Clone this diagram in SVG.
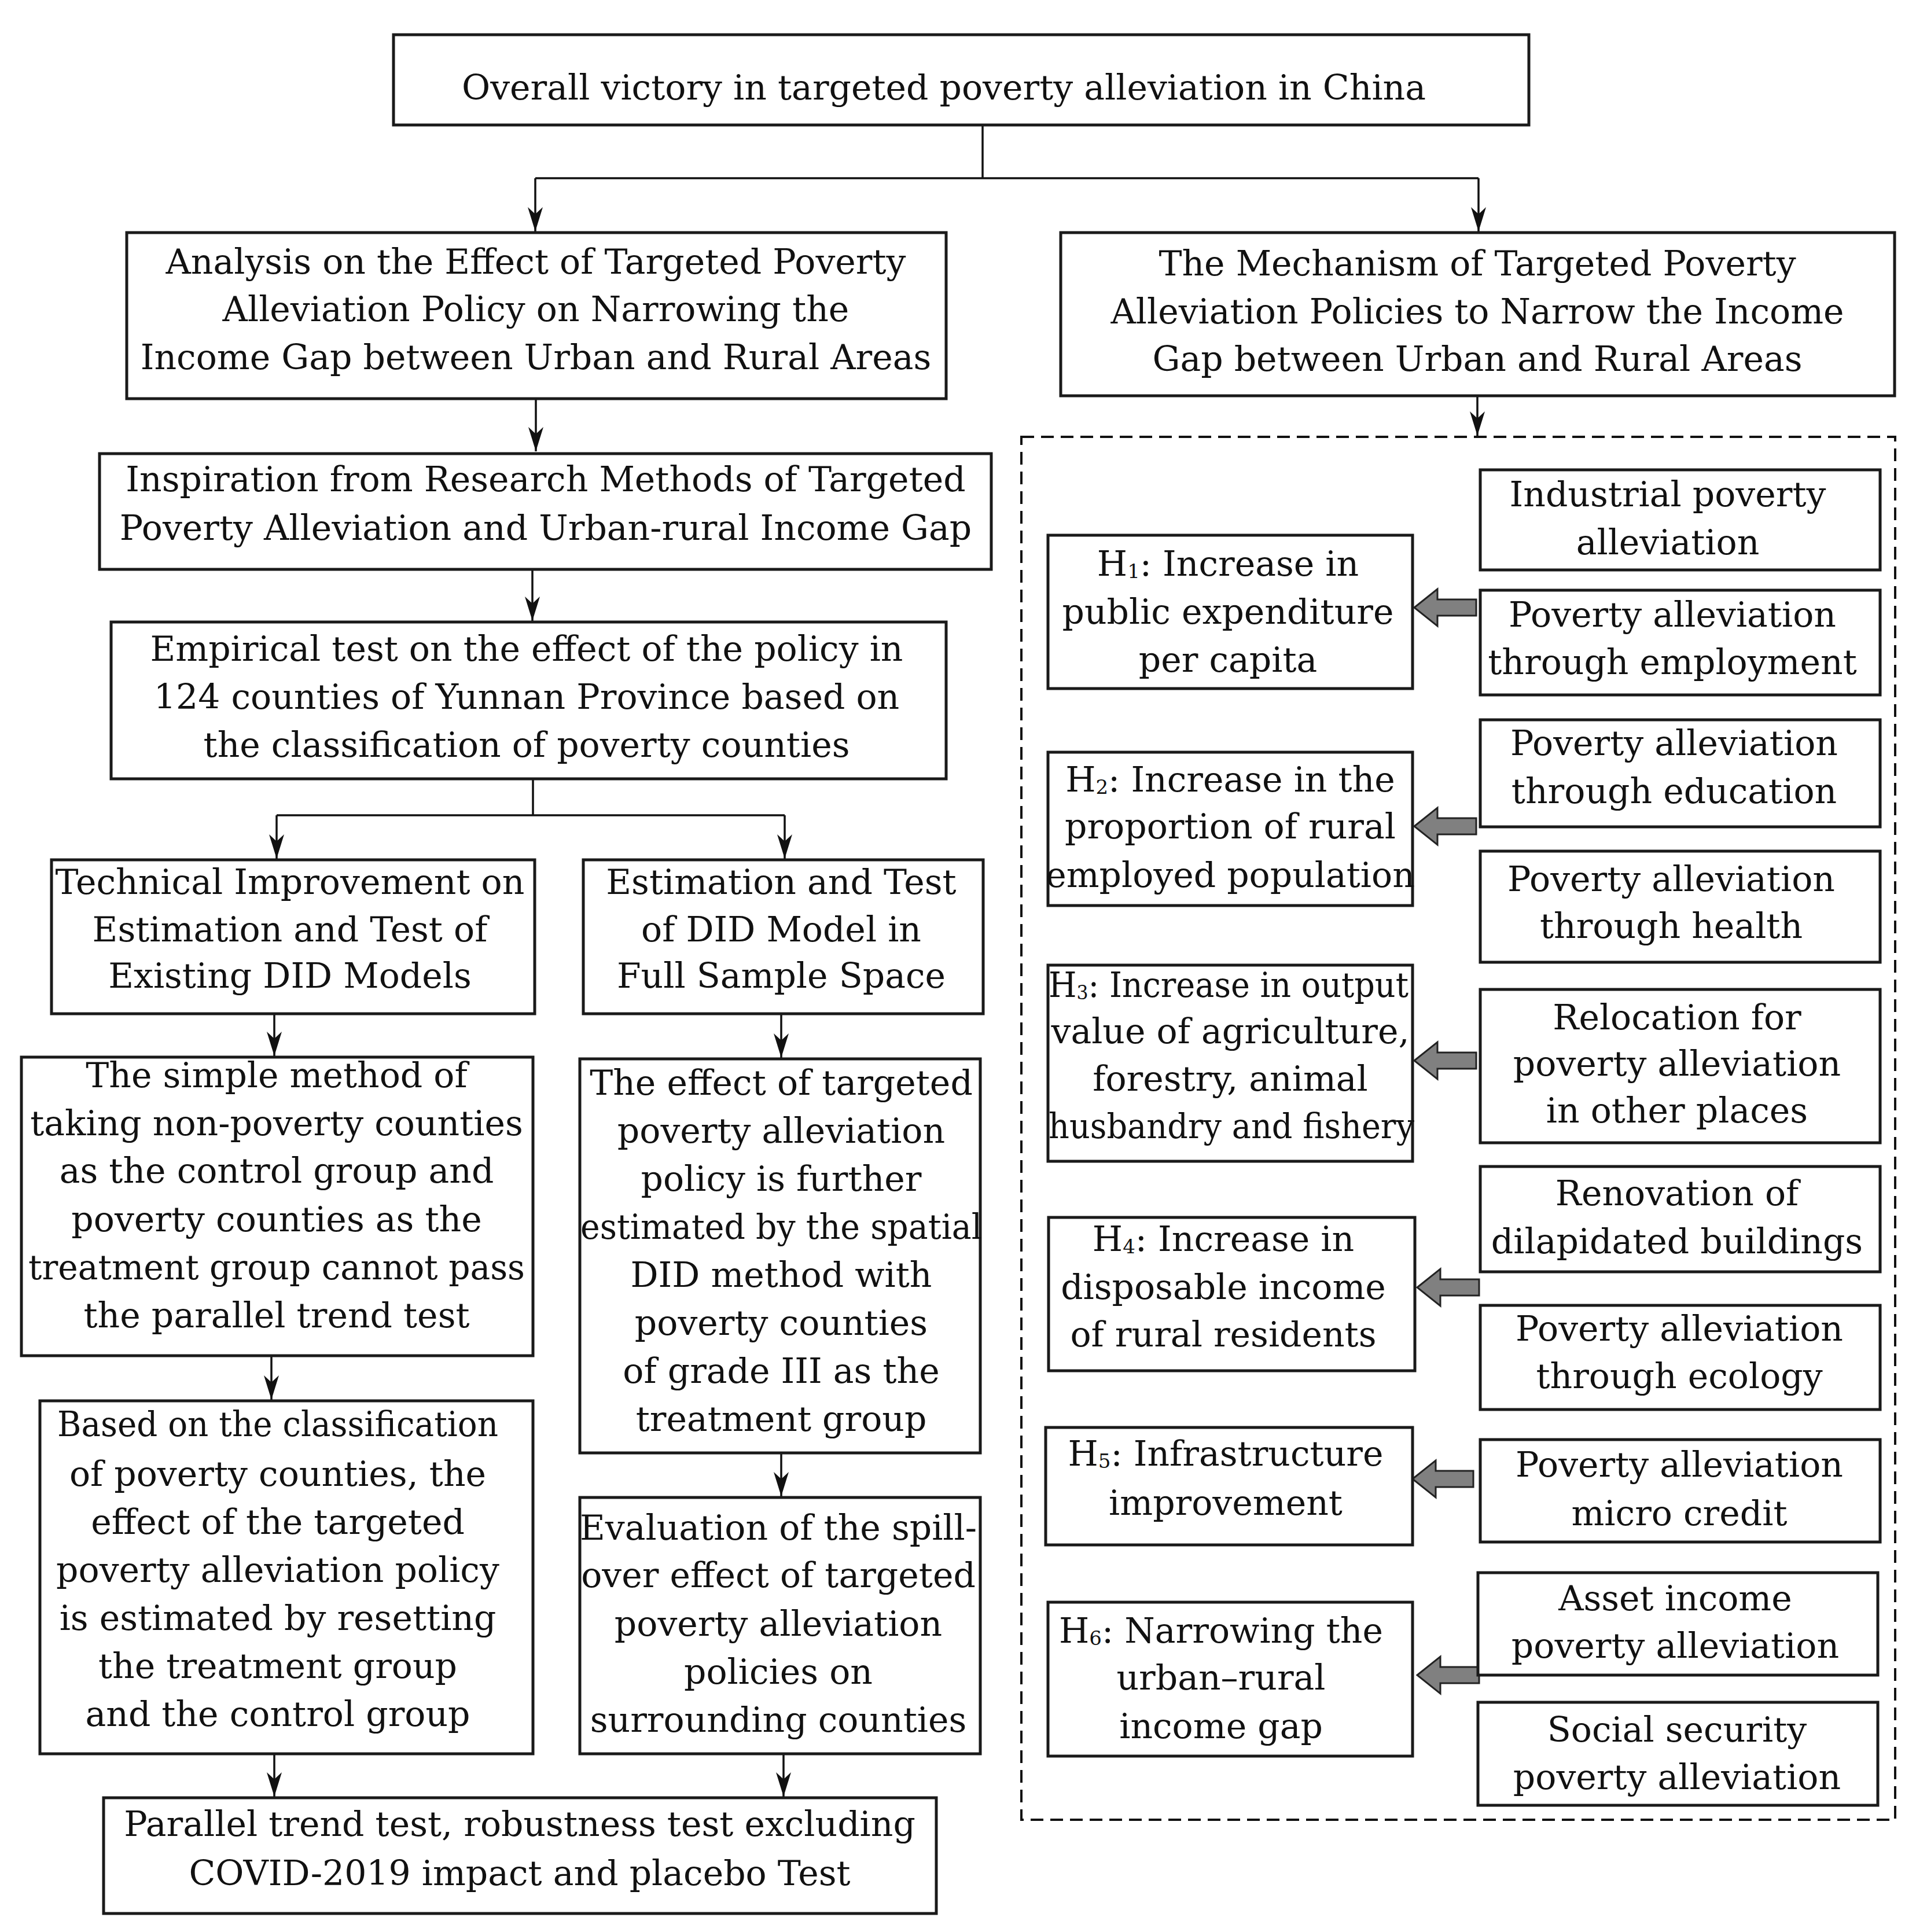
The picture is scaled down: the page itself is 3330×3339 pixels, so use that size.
<svg xmlns="http://www.w3.org/2000/svg" width="3330" height="3339" viewBox="0 0 3330 3339">
<style>
.box{fill:#fff;stroke:#1a1a1a;stroke-width:5}
.t{font-family:"DejaVu Serif","Liberation Serif",serif;font-size:60px;text-anchor:middle;fill:#111}
.ln{fill:none;stroke:#111;stroke-width:3.5}
.fat{fill:#808080;stroke:#222;stroke-width:3}
.sub{font-size:34px}
</style>
<defs>
<marker id="ah" viewBox="-42 -16 44 32" markerWidth="44" markerHeight="32" refX="0" refY="0" orient="auto" markerUnits="userSpaceOnUse">
<path d="M0,0 L-42,-13 L-30,0 L-42,13 Z" fill="#111"/>
</marker>
</defs>
<rect width="3330" height="3339" fill="#fff"/>

<g id="connectors">
<path class="ln" d="M1698,216 V308 M925,308 H2555"/>
<path class="ln" d="M925,308 V400" marker-end="url(#ah)"/>
<path class="ln" d="M2555,308 V400" marker-end="url(#ah)"/>
<path class="ln" d="M926,689 V780" marker-end="url(#ah)"/>
<path class="ln" d="M920,984 V1073" marker-end="url(#ah)"/>
<path class="ln" d="M921,1346 V1409 M478,1409 H1356"/>
<path class="ln" d="M478,1409 V1484" marker-end="url(#ah)"/>
<path class="ln" d="M1356,1409 V1484" marker-end="url(#ah)"/>
<path class="ln" d="M474,1752 V1825" marker-end="url(#ah)"/>
<path class="ln" d="M1350,1752 V1828" marker-end="url(#ah)"/>
<path class="ln" d="M469,2343 V2419" marker-end="url(#ah)"/>
<path class="ln" d="M1350,2511 V2586" marker-end="url(#ah)"/>
<path class="ln" d="M474,3031 V3105" marker-end="url(#ah)"/>
<path class="ln" d="M1354,3031 V3105" marker-end="url(#ah)"/>
<path class="ln" d="M2553,684 V753" marker-end="url(#ah)"/>
<rect x="1765" y="755" width="1510" height="2390" fill="none" stroke="#111" stroke-width="4" stroke-dasharray="22 12"/>
<polygon class="fat" points="2444,1050 2484,1018 2484,1036 2551,1036 2551,1064 2484,1064 2484,1082"/>
<polygon class="fat" points="2444,1428 2484,1396 2484,1414 2551,1414 2551,1442 2484,1442 2484,1460"/>
<polygon class="fat" points="2444,1833 2484,1801 2484,1819 2551,1819 2551,1847 2484,1847 2484,1865"/>
<polygon class="fat" points="2449,2225 2489,2193 2489,2211 2556,2211 2556,2239 2489,2239 2489,2257"/>
<polygon class="fat" points="2441,2556 2481,2524 2481,2542 2546,2542 2546,2570 2481,2570 2481,2588"/>
<polygon class="fat" points="2449,2895 2489,2863 2489,2881 2556,2881 2556,2909 2489,2909 2489,2927"/>
</g>

<g id="n_top"><rect class="box" x="680" y="60" width="1962" height="156"/>
<text class="t" x="1631" y="172">Overall victory in targeted poverty alleviation in China</text></g>

<g id="n_analysis"><rect class="box" x="219" y="402" width="1416" height="287"/>
<text class="t" x="926" y="473">Analysis on the Effect of Targeted Poverty</text>
<text class="t" x="926" y="555">Alleviation Policy on Narrowing the</text>
<text class="t" x="926" y="638">Income Gap between Urban and Rural Areas</text></g>

<g id="n_mechanism"><rect class="box" x="1833" y="402" width="1441" height="282"/>
<text class="t" x="2553" y="476">The Mechanism of Targeted Poverty</text>
<text class="t" x="2553" y="559">Alleviation Policies to Narrow the Income</text>
<text class="t" x="2553" y="641">Gap between Urban and Rural Areas</text></g>

<g id="n_inspiration"><rect class="box" x="172" y="784" width="1541" height="200"/>
<text class="t" x="943" y="849">Inspiration from Research Methods of Targeted</text>
<text class="t" x="943" y="933">Poverty Alleviation and Urban-rural Income Gap</text></g>

<g id="n_empirical"><rect class="box" x="192" y="1075" width="1443" height="271"/>
<text class="t" x="910" y="1142">Empirical test on the effect of the policy in</text>
<text class="t" x="910" y="1225">124 counties of Yunnan Province based on</text>
<text class="t" x="910" y="1308">the classification of poverty counties</text></g>

<g id="n_technical"><rect class="box" x="89" y="1486" width="835" height="266"/>
<text class="t" x="501" y="1545">Technical Improvement on</text>
<text class="t" x="501" y="1627">Estimation and Test of</text>
<text class="t" x="501" y="1707">Existing DID Models</text></g>

<g id="n_estimation"><rect class="box" x="1008" y="1486" width="691" height="266"/>
<text class="t" x="1350" y="1545">Estimation and Test</text>
<text class="t" x="1350" y="1627">of DID Model in</text>
<text class="t" x="1350" y="1707">Full Sample Space</text></g>

<g id="n_simple"><rect class="box" x="37" y="1827" width="884" height="516"/>
<text class="t" x="478" y="1879">The simple method of</text>
<text class="t" x="478" y="1962">taking non-poverty counties</text>
<text class="t" x="478" y="2044">as the control group and</text>
<text class="t" x="478" y="2128">poverty counties as the</text>
<text class="t" x="478" y="2211" textLength="858" lengthAdjust="spacingAndGlyphs">treatment group cannot pass</text>
<text class="t" x="478" y="2294">the parallel trend test</text></g>

<g id="n_effect"><rect class="box" x="1002" y="1830" width="692" height="681"/>
<text class="t" x="1350" y="1892">The effect of targeted</text>
<text class="t" x="1350" y="1975">poverty alleviation</text>
<text class="t" x="1350" y="2058">policy is further</text>
<text class="t" x="1350" y="2141" textLength="694" lengthAdjust="spacingAndGlyphs">estimated by the spatial</text>
<text class="t" x="1350" y="2224">DID method with</text>
<text class="t" x="1350" y="2307">poverty counties</text>
<text class="t" x="1350" y="2390">of grade III as the</text>
<text class="t" x="1350" y="2473">treatment group</text></g>

<g id="n_based"><rect class="box" x="69" y="2421" width="852" height="610"/>
<text class="t" x="480" y="2482" textLength="762" lengthAdjust="spacingAndGlyphs">Based on the classification</text>
<text class="t" x="480" y="2568">of poverty counties, the</text>
<text class="t" x="480" y="2651">effect of the targeted</text>
<text class="t" x="480" y="2734">poverty alleviation policy</text>
<text class="t" x="480" y="2817">is estimated by resetting</text>
<text class="t" x="480" y="2900">the treatment group</text>
<text class="t" x="480" y="2983">and the control group</text></g>

<g id="n_evaluation"><rect class="box" x="1002" y="2588" width="692" height="443"/>
<text class="t" x="1345" y="2661">Evaluation of the spill-</text>
<text class="t" x="1345" y="2743">over effect of targeted</text>
<text class="t" x="1345" y="2827">poverty alleviation</text>
<text class="t" x="1345" y="2910">policies on</text>
<text class="t" x="1345" y="2993">surrounding counties</text></g>

<g id="n_final"><rect class="box" x="179" y="3107" width="1439" height="200"/>
<text class="t" x="898" y="3173">Parallel trend test, robustness test excluding</text>
<text class="t" x="898" y="3258">COVID-2019 impact and placebo Test</text></g>

<g id="n_industrial"><rect class="box" x="2558" y="812" width="691" height="173"/>
<text class="t" x="2882" y="875">Industrial poverty</text>
<text class="t" x="2882" y="958">alleviation</text></g>

<g id="n_h1"><rect class="box" x="1811" y="925" width="630" height="265"/>
<text class="t" x="2122" y="995">H<tspan class="sub" dy="4">1</tspan><tspan dy="-4">: Increase in</tspan></text>
<text class="t" x="2122" y="1078">public expenditure</text>
<text class="t" x="2122" y="1161">per capita</text></g>

<g id="n_employment"><rect class="box" x="2558" y="1020" width="691" height="181"/>
<text class="t" x="2890" y="1083">Poverty alleviation</text>
<text class="t" x="2890" y="1165">through employment</text></g>

<g id="n_education"><rect class="box" x="2558" y="1244" width="691" height="185"/>
<text class="t" x="2893" y="1305">Poverty alleviation</text>
<text class="t" x="2893" y="1388">through education</text></g>

<g id="n_h2"><rect class="box" x="1811" y="1300" width="630" height="265"/>
<text class="t" x="2126" y="1368">H<tspan class="sub" dy="4">2</tspan><tspan dy="-4">: Increase in the</tspan></text>
<text class="t" x="2126" y="1449">proportion of rural</text>
<text class="t" x="2126" y="1533">employed population</text></g>

<g id="n_health"><rect class="box" x="2558" y="1471" width="691" height="192"/>
<text class="t" x="2888" y="1540">Poverty alleviation</text>
<text class="t" x="2888" y="1621">through health</text></g>

<g id="n_h3"><rect class="box" x="1811" y="1668" width="630" height="339"/>
<text class="t" x="2123" y="1723" textLength="622" lengthAdjust="spacingAndGlyphs">H<tspan class="sub" dy="4">3</tspan><tspan dy="-4">: Increase in output</tspan></text>
<text class="t" x="2126" y="1803">value of agriculture,</text>
<text class="t" x="2126" y="1885">forestry, animal</text>
<text class="t" x="2128" y="1967" textLength="632" lengthAdjust="spacingAndGlyphs">husbandry and fishery</text></g>

<g id="n_relocation"><rect class="box" x="2558" y="1710" width="691" height="265"/>
<text class="t" x="2898" y="1779">Relocation for</text>
<text class="t" x="2898" y="1859">poverty alleviation</text>
<text class="t" x="2898" y="1940">in other places</text></g>

<g id="n_renovation"><rect class="box" x="2558" y="2016" width="691" height="182"/>
<text class="t" x="2898" y="2083">Renovation of</text>
<text class="t" x="2898" y="2166">dilapidated buildings</text></g>

<g id="n_h4"><rect class="box" x="1812" y="2104" width="633" height="265"/>
<text class="t" x="2114" y="2162">H<tspan class="sub" dy="4">4</tspan><tspan dy="-4">: Increase in</tspan></text>
<text class="t" x="2114" y="2245">disposable income</text>
<text class="t" x="2114" y="2327">of rural residents</text></g>

<g id="n_ecology"><rect class="box" x="2558" y="2256" width="691" height="180"/>
<text class="t" x="2902" y="2317">Poverty alleviation</text>
<text class="t" x="2902" y="2399">through ecology</text></g>

<g id="n_h5"><rect class="box" x="1807" y="2467" width="634" height="203"/>
<text class="t" x="2118" y="2533">H<tspan class="sub" dy="4">5</tspan><tspan dy="-4">: Infrastructure</tspan></text>
<text class="t" x="2118" y="2618">improvement</text></g>

<g id="n_microcredit"><rect class="box" x="2558" y="2488" width="691" height="177"/>
<text class="t" x="2902" y="2552">Poverty alleviation</text>
<text class="t" x="2902" y="2636">micro credit</text></g>

<g id="n_h6"><rect class="box" x="1811" y="2769" width="630" height="266"/>
<text class="t" x="2110" y="2839">H<tspan class="sub" dy="4">6</tspan><tspan dy="-4">: Narrowing the</tspan></text>
<text class="t" x="2110" y="2920">urban–rural</text>
<text class="t" x="2110" y="3004">income gap</text></g>

<g id="n_asset"><rect class="box" x="2554" y="2718" width="691" height="177"/>
<text class="t" x="2895" y="2783">Asset income</text>
<text class="t" x="2895" y="2865">poverty alleviation</text></g>

<g id="n_social"><rect class="box" x="2554" y="2942" width="691" height="178"/>
<text class="t" x="2898" y="3010">Social security</text>
<text class="t" x="2898" y="3092">poverty alleviation</text></g>
</svg>
